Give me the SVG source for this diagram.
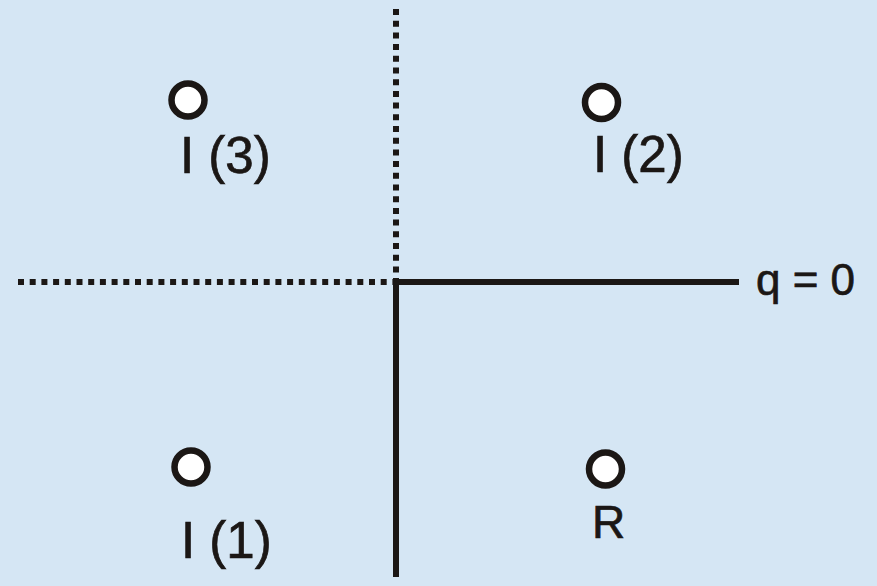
<svg xmlns="http://www.w3.org/2000/svg" width="877" height="586" viewBox="0 0 877 586">
<style>
.lbl{font-family:"Liberation Sans",Arial,sans-serif;fill:#1b1715;stroke:#1b1715;stroke-width:0.7}
.pt{fill:#ffffff;stroke:#1b1715;stroke-width:6.5}
.solid{stroke:#1b1715;stroke-width:6;fill:none}
.dot{stroke:#1b1715;stroke-width:6;fill:none;stroke-dasharray:6 5.7}
</style>
<rect x="0" y="0" width="877" height="586" fill="#d5e6f4"/>
<g id="connectors">
<line class="dot" x1="18" y1="282" x2="393" y2="282"/>
<line class="dot" x1="396" y1="9" x2="396" y2="279"/>
<line class="solid" x1="393" y1="282" x2="739" y2="282"/>
<line class="solid" x1="396" y1="279" x2="396" y2="577"/>
</g>
<g id="I3">
<circle class="pt" cx="188" cy="100" r="16.5"/>
<text class="lbl" x="180" y="173" font-size="51">I (3)</text>
</g>
<g id="I2">
<circle class="pt" cx="601.5" cy="102.5" r="16.5"/>
<text class="lbl" x="593" y="172" font-size="51">I (2)</text>
</g>
<g id="I1">
<circle class="pt" cx="191" cy="467" r="16.5"/>
<text class="lbl" x="181" y="558" font-size="51">I (1)</text>
</g>
<g id="R">
<circle class="pt" cx="605.5" cy="469" r="16.5"/>
<text class="lbl" x="592" y="538" font-size="46">R</text>
</g>
<g id="axis-label">
<text class="lbl" x="756" y="295" font-size="44">q = 0</text>
</g>
</svg>
